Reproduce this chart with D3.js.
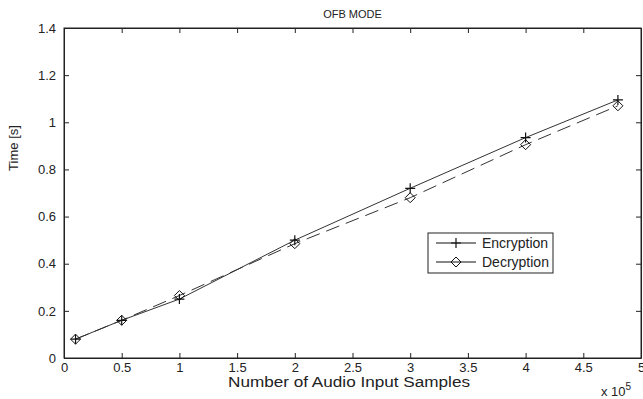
<!DOCTYPE html>
<html>
<head>
<meta charset="utf-8">
<script src="https://cdn.jsdelivr.net/npm/d3@7"></script>
<style>
  body { margin: 0; background: #fff; }
  svg { display: block; font-family: "Liberation Sans", Arial, sans-serif; }
</style>
</head>
<body>
<div id="chart"></div>
<script>
// samples in units of 10^5
const samples = [0.1, 0.5, 1, 2, 3, 4, 4.8];
const encryption = [0.08, 0.16, 0.25, 0.50, 0.72, 0.935, 1.095];
const decryption = [0.08, 0.16, 0.265, 0.485, 0.68, 0.905, 1.07];
const xTicks = [0, 0.5, 1, 1.5, 2, 2.5, 3, 3.5, 4, 4.5, 5];
const yTicks = [0, 0.2, 0.4, 0.6, 0.8, 1, 1.2, 1.4];
const seriesNames = ["Encryption", "Decryption"];

const width = 643, height = 399;
const margin = { top: 28, right: 2, bottom: 41, left: 64 };
const innerW = width - margin.left - margin.right;
const innerH = height - margin.top - margin.bottom;
const ink = "#222";

const svg = d3.select("#chart").append("svg")
  .attr("width", width)
  .attr("height", height);

const g = svg.append("g")
  .attr("transform", `translate(${margin.left},${margin.top})`);

const x = d3.scaleLinear().domain([0, 5]).range([0, innerW]);
const y = d3.scaleLinear().domain([0, 1.4]).range([innerH, 0]);

// axes, ticks pointing inward (matlab style)
const fmt = d => String(d);
g.append("g")
  .attr("transform", `translate(0,${innerH})`)
  .call(d3.axisBottom(x).tickValues(xTicks).tickFormat(fmt).tickSizeInner(-5).tickSizeOuter(0).tickPadding(5));
g.append("g")
  .call(d3.axisLeft(y).tickValues(yTicks).tickFormat(fmt).tickSizeInner(-5).tickSizeOuter(0).tickPadding(8));
g.append("g")
  .call(d3.axisTop(x).tickValues(xTicks).tickFormat("").tickSizeInner(-5).tickSizeOuter(0));
g.append("g")
  .attr("transform", `translate(${innerW},0)`)
  .call(d3.axisRight(y).tickValues(yTicks).tickFormat("").tickSizeInner(-5).tickSizeOuter(0));

g.selectAll(".domain").attr("stroke", ink);
g.selectAll(".tick line").attr("stroke", ink);
g.selectAll(".tick text")
  .attr("fill", ink)
  .style("font-size", "13px")
  .style("font-family", "'Liberation Sans', Arial, sans-serif");

g.append("rect")
  .attr("width", innerW)
  .attr("height", innerH)
  .attr("fill", "none")
  .attr("stroke", ink);

// lines
const line = d3.line()
  .x((d, i) => x(samples[i]))
  .y(d => y(d));

g.append("path")
  .datum(encryption)
  .attr("d", line)
  .attr("fill", "none")
  .attr("stroke", "#333")
  .attr("stroke-width", 1);

g.append("path")
  .datum(decryption)
  .attr("d", line)
  .attr("fill", "none")
  .attr("stroke", "#333")
  .attr("stroke-width", 1)
  .attr("stroke-dasharray", "14,7");

// markers
function drawPlus(sel, px, py, s) {
  sel.append("path")
    .attr("d", `M${px - s},${py}H${px + s}M${px},${py - s}V${py + s}`)
    .attr("stroke", "#111")
    .attr("stroke-width", 1.2)
    .attr("fill", "none");
}
function drawDiamond(sel, px, py, s) {
  sel.append("path")
    .attr("d", `M${px},${py - s}L${px + s},${py}L${px},${py + s}L${px - s},${py}Z`)
    .attr("stroke", "#111")
    .attr("stroke-width", 1)
    .attr("fill", "none");
}
encryption.forEach((v, i) => drawPlus(g, x(samples[i]), y(v), 5));
decryption.forEach((v, i) => drawDiamond(g, x(samples[i]), y(v), 5));

// title and labels
svg.append("text")
  .attr("x", margin.left + innerW / 2)
  .attr("y", 18)
  .attr("text-anchor", "middle")
  .style("font-size", "11px")
  .attr("fill", ink)
  .text("OFB MODE");

svg.append("text")
  .attr("x", 228)
  .attr("y", 387)
  .attr("textLength", 242)
  .attr("lengthAdjust", "spacingAndGlyphs")
  .style("font-size", "14px")
  .attr("fill", ink)
  .text("Number of Audio Input Samples");

const mult = svg.append("text")
  .attr("x", 601)
  .attr("y", 396)
  .style("font-size", "13px")
  .attr("fill", ink);
mult.append("tspan").text("x 10");
mult.append("tspan").attr("dy", -6).style("font-size", "10px").text("5");

svg.append("text")
  .attr("transform", "translate(18,148) rotate(-90)")
  .attr("text-anchor", "middle")
  .style("font-size", "13px")
  .attr("fill", ink)
  .text("Time [s]");

// legend
const leg = svg.append("g").attr("transform", "translate(428,233)");
leg.append("rect")
  .attr("width", 125)
  .attr("height", 40)
  .attr("fill", "#fff")
  .attr("stroke", ink);
seriesNames.forEach((name, i) => {
  const ly = 10 + i * 19;
  leg.append("line")
    .attr("x1", 8).attr("x2", 48)
    .attr("y1", ly).attr("y2", ly)
    .attr("stroke", "#111");
  if (i === 0) drawPlus(leg, 28, ly, 5);
  else drawDiamond(leg, 28, ly, 5);
  leg.append("text")
    .attr("x", 54)
    .attr("y", ly + 5)
    .style("font-size", "14px")
    .attr("fill", ink)
    .text(name);
});
</script>
</body>
</html>
